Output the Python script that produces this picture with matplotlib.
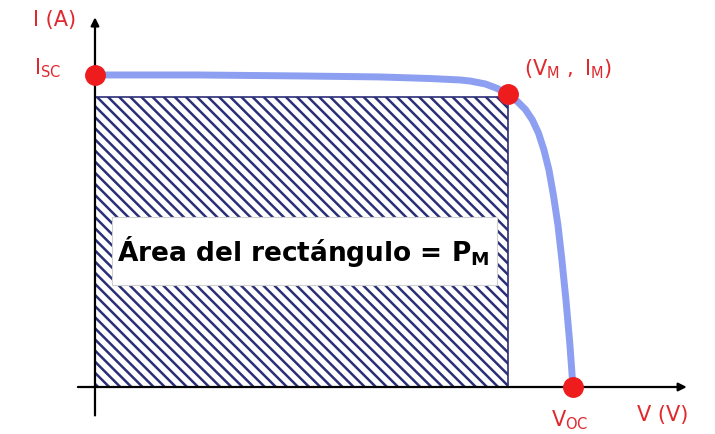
import matplotlib.pyplot as plt
from matplotlib.patches import Rectangle

# I-V curve of a solar cell (arbitrary units)
v_curve = [0.0, 0.132, 0.258, 0.358, 0.421, 0.459, 0.472, 0.491, 0.506, 0.52,
           0.5314, 0.5415, 0.5503, 0.5579, 0.5648, 0.5711, 0.5767, 0.5824,
           0.5874, 0.5925, 0.5975, 0.6013]
i_curve = [3.2, 3.2, 3.19, 3.18, 3.164, 3.149, 3.138, 3.108, 3.062, 3.0,
           2.928, 2.846, 2.738, 2.605, 2.431, 2.226, 1.969, 1.662,
           1.303, 0.892, 0.431, 0.0]
isc = 3.2
voc = 0.6013
vm = 0.52
im = 3.0

plt.rcParams['mathtext.default'] = 'regular'
plt.rcParams['hatch.linewidth'] = 1.8

red = '#ee1c1c'
txt_red = '#e0282d'

fig = plt.figure(figsize=(7.15, 4.34), dpi=100)
ax = fig.add_axes([0, 0, 1, 1])
ax.set_xlim(-0.1195, 0.78)
ax.set_ylim(-0.482, 3.969)
ax.axis('off')

# axes with arrows
ax.annotate('', xy=(0.748, 0), xytext=(-0.025, 0),
            arrowprops=dict(arrowstyle='-|>', color='black', lw=1.6, mutation_scale=12))
ax.annotate('', xy=(0, 3.82), xytext=(0, -0.32),
            arrowprops=dict(arrowstyle='-|>', color='black', lw=1.6, mutation_scale=12))

# hatched max power rectangle
ax.add_patch(Rectangle((0, 0), vm, im - 0.03, facecolor='white', edgecolor='#2b2f78',
                       hatch='\\\\\\', lw=1.2, zorder=2))
ax.add_patch(Rectangle((0.0215, 1.046), 0.4842, 0.698, facecolor='white',
                       edgecolor='#d0d0d0', lw=0.8, zorder=3))
ax.text(0.262, 1.39, 'Área del rectángulo = P$_M$', ha='center', va='center',
        fontsize=19, fontweight='bold', color='black', zorder=4)

# curve and key points
ax.plot(v_curve, i_curve, color='#8c9ff0', lw=5, solid_capstyle='round',
        solid_joinstyle='round', zorder=5)
ax.plot([0, vm, voc], [isc, im, 0], 'o', color=red, ms=14, zorder=6)

lab = dict(color=txt_red, fontsize=15, ha='center', va='center', textcoords='offset points')
ax.annotate('$I_{SC}$', xy=(0, isc), xytext=(-34, 5), **lab)
ax.annotate('$(V_M\\ ,\\ I_M)$', xy=(vm, im), xytext=(43, 18), **lab)
ax.annotate('$V_{OC}$', xy=(voc, 0), xytext=(-2, -24), **lab)
ax.annotate('V (V)', xy=(0.748, 0), xytext=(-19, -20), **lab)
ax.annotate('I (A)', xy=(0, 3.82), xytext=(-29, -4), **lab)

fig.savefig('out.png', dpi=100)
